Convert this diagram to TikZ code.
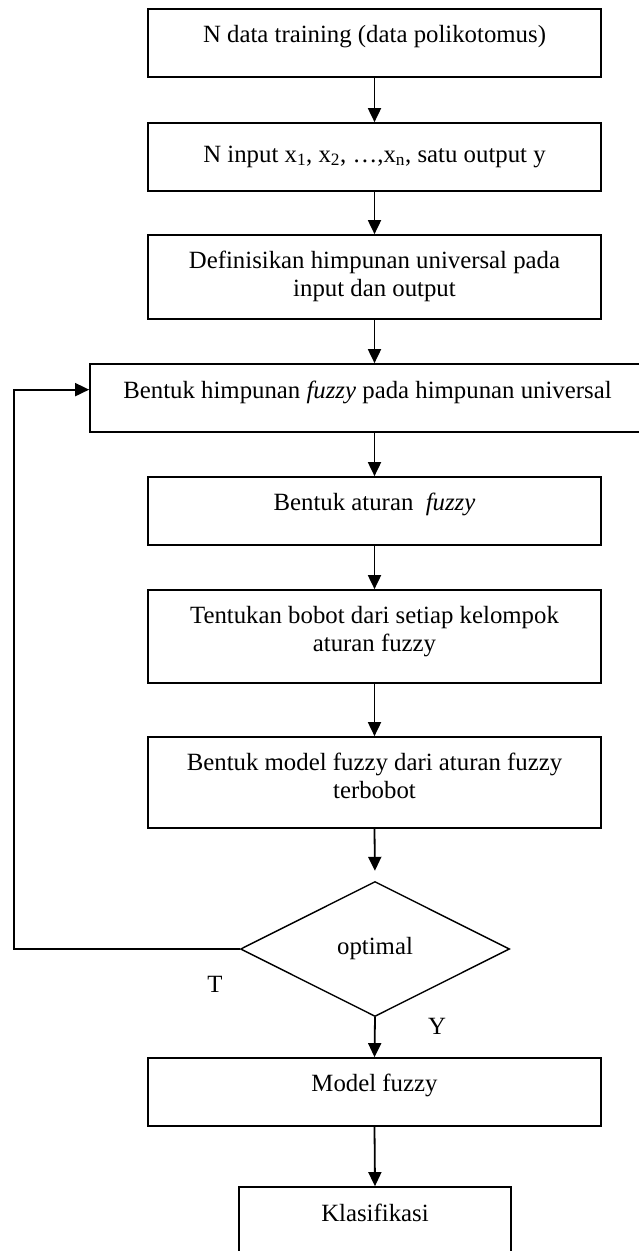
\documentclass[tikz,border=0pt]{standalone}
\usepackage{fontspec}
\setmainfont{Liberation Serif}
\usetikzlibrary{arrows.meta,shapes.geometric,calc}

\tikzset{
  flowbox/.style={draw, line width=1.7pt, inner sep=0pt, text height=33pt, minimum width=453pt},
  arr/.style={line width=1.8pt, -{Triangle[width=13pt,length=14pt]}},
  decision/.style={diamond, draw, line width=1.4pt, inner sep=0pt,
                   minimum width=269pt, minimum height=135pt},
  tag/.style={inner sep=0pt},
}

\begin{document}
\begin{tikzpicture}[x=1pt, y=-1pt, font=\fontsize{24.8}{28.5}\selectfont]
  \useasboundingbox (0,0) rectangle (639,1251);
  \clip (0,0) rectangle (639,1251);

  % process steps
  \node[flowbox, text depth=35pt] (b1) at (374.5,43)
    {N data training (data polikotomus)};
  \node[flowbox, text height=39pt, text depth=29pt] (b2) at (374.5,157)
    {N input x\textsubscript{1}, x\textsubscript{2}, …,x\textsubscript{n}, satu output y};
  \node[flowbox, text depth=51pt] (b3) at (374.5,277)
    {\parbox[t]{440pt}{\centering Definisikan himpunan universal pada\\ input dan output}};
  \node[flowbox, text height=34pt, text depth=34pt, minimum width=555pt] (b4) at (367.5,398)
    {Bentuk himpunan \textit{fuzzy} pada himpunan universal};
  \node[flowbox, text depth=35pt] (b5) at (374.5,511)
    {Bentuk aturan~ \textit{fuzzy}};
  \node[flowbox, text depth=60pt] (b6) at (374.5,636.5)
    {\parbox[t]{440pt}{\centering Tentukan bobot dari setiap kelompok\\ aturan fuzzy}};
  \node[flowbox, text depth=58pt] (b7) at (374.5,782.5)
    {\parbox[t]{440pt}{\centering Bentuk model fuzzy dari aturan fuzzy\\ terbobot}};

  % decision
  \node[decision] (dia) at (375,949) {optimal};

  % result steps
  \node[flowbox, text depth=35pt] (b8) at (374.5,1092) {Model fuzzy};
  \node[flowbox, text height=34pt, text depth=69pt, minimum width=272pt] (b9) at (375,1238.5)
    {Klasifikasi};

  % branch labels
  \node[tag] (lblT) at (215,984) {T};
  \node[tag] (lblY) at (437,1026) {Y};

  % connectors
  \draw[arr] (b1.south) -- (b2.north);
  \draw[arr] (b2.south) -- (b3.north);
  \draw[arr] (b3.south) -- (b4.north -| b3.south);
  \draw[arr] (b4.south -| b5.north) -- (b5.north);
  \draw[arr] (b5.south) -- (b6.north);
  \draw[arr] (b6.south) -- (b7.north);
  \draw[arr, shorten >=10pt] (b7.south) -- (dia.north);
  \draw[arr] (dia.south) -- (b8.north);
  \draw[arr] (b8.south) -- (b9.north);

  % feedback loop back to the fuzzy set step
  \coordinate (loopx) at (14,0);
  \coordinate (loopin) at ($(b4.north west)!0.38!(b4.south west)$);
  \draw[arr] (dia.west) -- (dia.west -| loopx) |- (loopin);
\end{tikzpicture}
\end{document}
